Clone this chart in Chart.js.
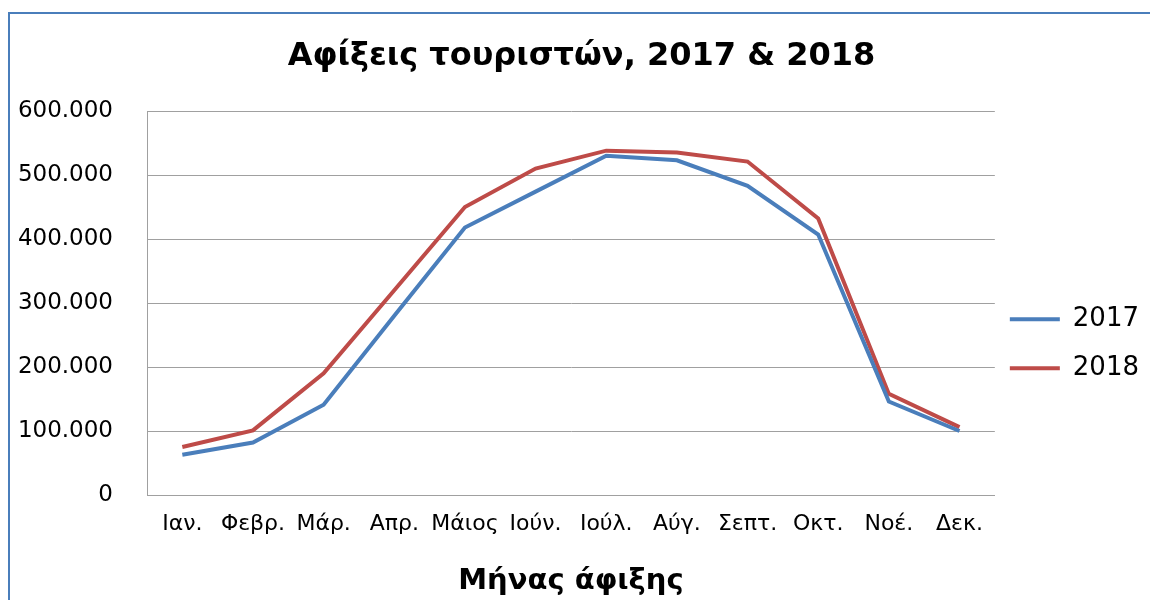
<!DOCTYPE html>
<html>
<head>
<meta charset="utf-8">
<script src="https://cdn.jsdelivr.net/npm/chart.js@4.4.1/dist/chart.umd.min.js"></script>
<style>
  html, body { margin: 0; padding: 0; background: #ffffff; }
  #wrap { position: relative; width: 1150px; height: 600px; overflow: hidden; background: #fff; }
  #frame { position: absolute; left: 8px; top: 12px; width: 1300px; height: 800px;
           border-top: 2px solid #4a7ebb; border-left: 2px solid #4a7ebb; }
  #c { position: absolute; left: 0; top: 0; }
</style>
</head>
<body>
<div id="wrap">
  <div id="frame"></div>
  <canvas id="c" width="1150" height="600"></canvas>
</div>
<script>
const chartTitle = 'Αφίξεις τουριστών, 2017 & 2018';
const xAxisTitle = 'Μήνας άφιξης';
const months = ['Ιαν.', 'Φεβρ.', 'Μάρ.', 'Απρ.', 'Μάιος', 'Ιούν.', 'Ιούλ.', 'Αύγ.', 'Σεπτ.', 'Οκτ.', 'Νοέ.', 'Δεκ.'];
const seriesNames = ['2017', '2018'];
const arrivals2017 = [63000, 82000, 141000, 280000, 418000, 474000, 530000, 523000, 483000, 407000, 146000, 100000];
const arrivals2018 = [75000, 101000, 190000, 320000, 450000, 510000, 538000, 535000, 521000, 432000, 158000, 106000];
const yTickLabels = ['0', '100.000', '200.000', '300.000', '400.000', '500.000', '600.000'];

const FONT = "'DejaVu Sans', Verdana, sans-serif";
const BLUE = '#4a7ebb';
const RED = '#be4b48';
const GRID = '#a0a0a0';

const PLOT_LEFT = 147;
const PLOT_BOTTOM = 495;
const PAD = { left: 14, right: 1, top: 92.5, bottom: -3 };

new Chart(document.getElementById('c'), {
  type: 'line',
  data: {
    labels: months,
    datasets: [
      { label: seriesNames[0], data: arrivals2017, borderColor: BLUE, backgroundColor: BLUE,
        borderWidth: 4, pointRadius: 0, tension: 0, fill: false },
      { label: seriesNames[1], data: arrivals2018, borderColor: RED, backgroundColor: RED,
        borderWidth: 4, pointRadius: 0, tension: 0, fill: false }
    ]
  },
  options: {
    responsive: false,
    animation: false,
    devicePixelRatio: 1,
    layout: { padding: PAD },
    plugins: {
      title: {
        display: true,
        text: chartTitle,
        color: '#000',
        font: { family: FONT, size: 32, weight: 'bold' },
        padding: { top: -54.7, bottom: 34.8 }
      },
      legend: {
        display: true,
        position: 'right',
        labels: {
          color: '#000',
          font: { family: FONT, size: 26, lineHeight: 1.3077 },
          boxWidth: 50,
          boxHeight: 4,
          padding: 15,
          generateLabels(chart) {
            return chart.data.datasets.map((ds, i) => ({
              text: [ds.label],
              fillStyle: ds.borderColor,
              strokeStyle: ds.borderColor,
              lineWidth: 0,
              hidden: false,
              datasetIndex: i,
              fontColor: '#000'
            }));
          }
        }
      },
      tooltip: { enabled: false }
    },
    scales: {
      x: {
        offset: true,
        grid: { display: false, drawTicks: false },
        border: { display: true, color: GRID, width: 1 },
        ticks: { color: '#000', font: { family: FONT, size: 22 }, padding: 16, autoSkip: false, maxRotation: 0 },
        title: { display: true, text: xAxisTitle, color: '#000', font: { family: FONT, size: 29, weight: 'bold' } },
        afterFit(scale) { scale.height = (600 - PAD.bottom) - PLOT_BOTTOM; }
      },
      y: {
        min: 0,
        max: 600000,
        grid: { color: GRID, lineWidth: 1, drawTicks: false },
        border: { display: true, color: GRID, width: 1 },
        ticks: {
          stepSize: 100000,
          color: '#000',
          font: { family: FONT, size: 23 },
          padding: 34,
          callback: (v, i) => yTickLabels[i]
        },
        afterFit(scale) { scale.width = PLOT_LEFT - PAD.left; }
      }
    }
  }
});
</script>
</body>
</html>
